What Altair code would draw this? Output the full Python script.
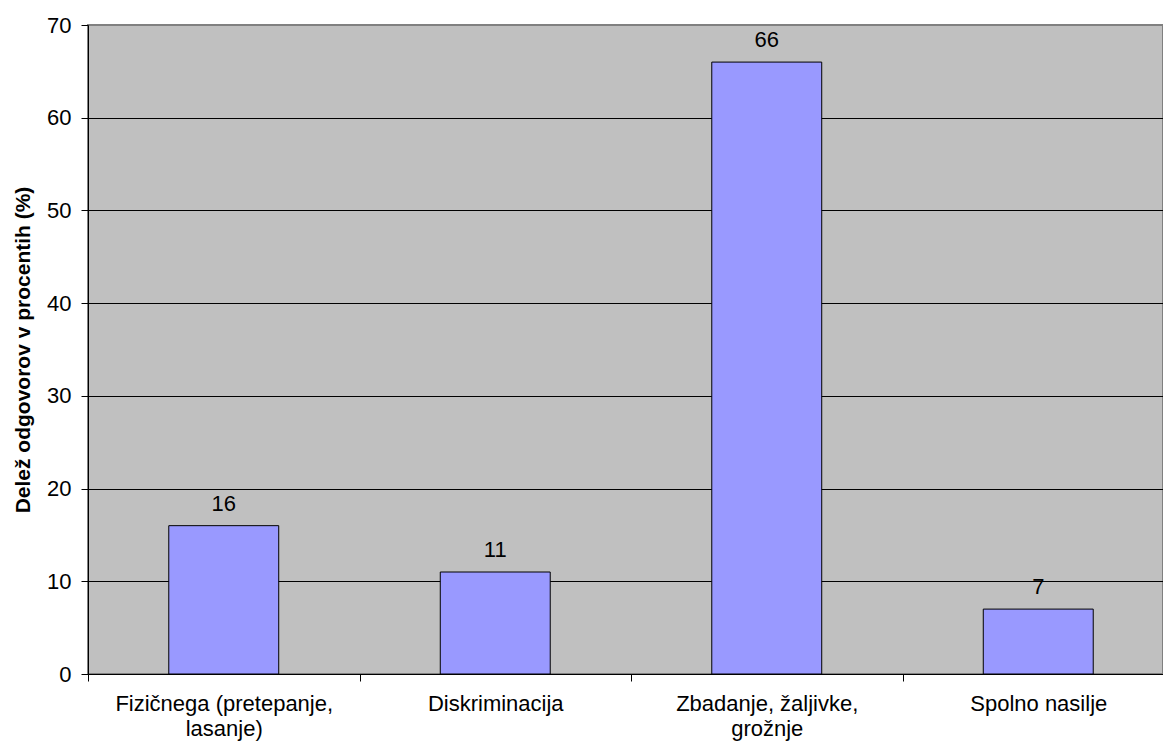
import altair as alt
import pandas as pd

# Types of violence and share of answers (%)
categories = [
    "Fizičnega (pretepanje, lasanje)",
    "Diskriminacija",
    "Zbadanje, žaljivke, grožnje",
    "Spolno nasilje",
]
label_lines = [
    ["Fizičnega (pretepanje,", "lasanje)"],
    ["Diskriminacija"],
    ["Zbadanje, žaljivke,", "grožnje"],
    ["Spolno nasilje"],
]
shares = [16, 11, 66, 7]
y_ticks = [0, 10, 20, 30, 40, 50, 60, 70]

df = pd.DataFrame({"kategorija": categories, "delez": shares})

FONT = "Liberation Sans"
W, H = 1075, 649
STEP = 271.5

label_expr = "{" + ", ".join(
    f"'{c}': [{', '.join(repr(s) for s in lines)}]" for c, lines in zip(categories, label_lines)
) + "}[datum.value]"

x = alt.X(
    "kategorija:N",
    sort=categories,
    scale=alt.Scale(range=[0, STEP * 4], paddingInner=0, paddingOuter=0),
    axis=alt.Axis(
        title=None,
        labelAngle=0,
        labelExpr=label_expr,
        labelFont=FONT,
        labelFontSize=22,
        labelColor="black",
        labelPadding=12,
        labelLineHeight=25,
        labelLimit=0,
        tickBand="extent",
        tickColor="black",
        tickSize=7,
        domainColor="black",
        grid=False,
    ),
)

y = alt.Y(
    "delez:Q",
    scale=alt.Scale(domain=[0, 70], nice=False),
    axis=alt.Axis(
        title="Delež odgovorov v procentih (%)",
        titleFont=FONT,
        titleFontSize=21,
        titleFontWeight="bold",
        titleColor="black",
        titlePadding=13,
        values=y_ticks,
        labelFont=FONT,
        labelFontSize=22,
        labelColor="black",
        labelPadding=10,
        tickColor="black",
        tickSize=7,
        domainColor="black",
        gridColor={"condition": {"test": "datum.value == 70", "value": "#808080"}, "value": "black"},
        gridOpacity=1,
        gridWidth=1,
    ),
)

bars = alt.Chart(df).mark_bar(
    color="#9999FF", stroke="black", strokeWidth=1, width={"band": 0.405}
).encode(x=x, y=y)

labels = alt.Chart(df).mark_text(
    font=FONT, fontSize=22, color="black", baseline="alphabetic", dy=-15
).encode(x=alt.X("kategorija:N", sort=categories), y="delez:Q", text="delez:Q")

chart = (
    alt.layer(bars, labels)
    .properties(
        width=W,
        height=H,
        autosize=alt.AutoSizeParams(type="none"),
        padding={"left": 88, "top": 25, "right": 0, "bottom": 68},
        background="white",
    )
    .configure_view(fill="#C0C0C0", stroke="#808080", strokeWidth=2)
)

chart.save("out.html", embed_options={"renderer": "svg", "actions": False})
